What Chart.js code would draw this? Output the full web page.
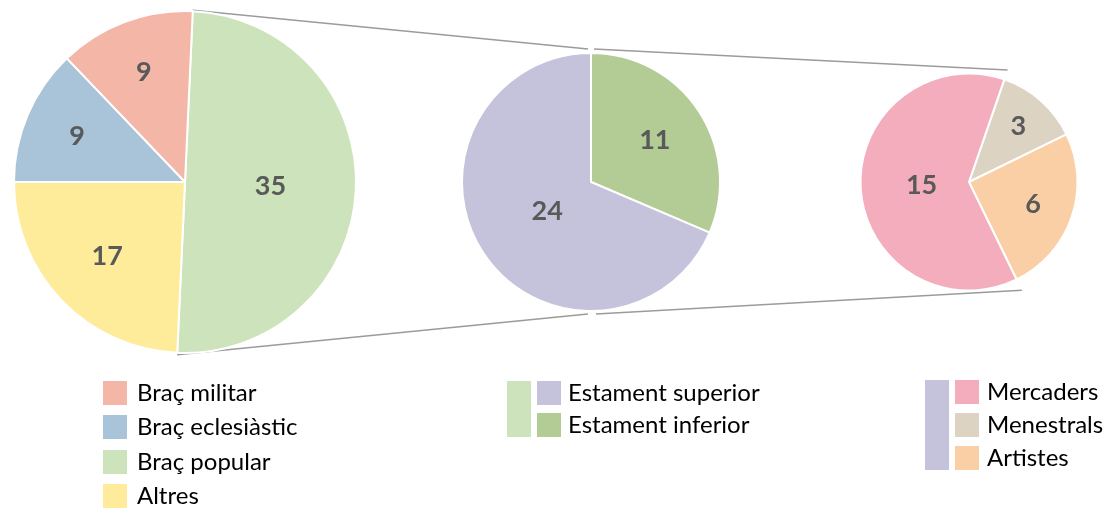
<!DOCTYPE html>
<html>
<head>
<meta charset="utf-8">
<script src="https://cdn.jsdelivr.net/npm/chart.js@4/dist/chart.umd.min.js"></script>
<style>
  body { margin: 0; background: #fff; }
  #wrap { position: relative; width: 1109px; height: 509px; overflow: hidden; font-family: Lato, "Open Sans", sans-serif; }
  canvas { position: absolute; }
  .sw { position: absolute; }
  .txt { position: absolute; font-size: 24px; color: #000; height: 24px; line-height: 24px; white-space: nowrap; }
</style>
</head>
<body>
<div id="wrap">
  <canvas id="lines" width="1109" height="509" style="left:0;top:0"></canvas>
  <canvas id="pieBraços" width="360" height="360" style="left:5px;top:2px"></canvas>
  <canvas id="pieEstaments" width="280" height="280" style="left:451px;top:42px"></canvas>
  <canvas id="pieSuperior" width="240" height="240" style="left:849px;top:62px"></canvas>
</div>
<script>
// dades (ordre de dibuix, en sentit horari)
const bracosLabels = ["Braç popular", "Altres", "Braç eclesiàstic", "Braç militar"];
const bracosValues = [35, 17, 9, 9];
const bracosColors = ["#CDE3BB", "#FEEC9B", "#A9C3D8", "#F4B6A7"];

const estamentsLabels = ["Estament inferior", "Estament superior"];
const estamentsValues = [11, 24];
const estamentsColors = ["#B3CB95", "#C5C3DC"];

const superiorLabels = ["Menestrals", "Artistes", "Mercaders"];
const superiorValues = [3, 6, 15];
const superiorColors = ["#DDD3C2", "#FBCFA6", "#F3ADBD"];

// ordre de les llegendes
const bracosLegend = ["Braç militar", "Braç eclesiàstic", "Braç popular", "Altres"];
const estamentsLegend = ["Estament superior", "Estament inferior"];
const superiorLegend = ["Mercaders", "Menestrals", "Artistes"];

// etiquetes dins de cada sector
const valueLabels = {
    id: "valueLabels",
    afterDatasetsDraw(chart) {
        const ctx = chart.ctx;
        const meta = chart.getDatasetMeta(0);
        const values = chart.data.datasets[0].data;
        const total = values.reduce((a, b) => a + b, 0);
        ctx.save();
        ctx.font = "bold 27px Lato, sans-serif";
        ctx.fillStyle = "#595959";
        ctx.textAlign = "center";
        ctx.textBaseline = "middle";
        meta.data.forEach((arc, i) => {
            const f = values[i] / total;
            const mid = (arc.startAngle + arc.endAngle) / 2;
            const d = arc.outerRadius * (0.75 - 0.5 * f);
            ctx.fillText(String(values[i]), arc.x + d * Math.cos(mid), arc.y + d * Math.sin(mid));
        });
        ctx.restore();
    },
};

function makePie(id, labels, values, colors, radius, rotation) {
    return new Chart(document.getElementById(id), {
        type: "pie",
        data: {
            labels: labels,
            datasets: [{
                data: values,
                backgroundColor: colors,
                borderColor: "#ffffff",
                borderWidth: 2,
            }],
        },
        options: {
            responsive: false,
            animation: false,
            radius: radius,
            rotation: rotation,
            plugins: { legend: { display: false }, tooltip: { enabled: false } },
        },
        plugins: [valueLabels],
    });
}

const chartBracos = makePie("pieBraços", bracosLabels, bracosValues, bracosColors, 171, 2.6);
const chartEstaments = makePie("pieEstaments", estamentsLabels, estamentsValues, estamentsColors, 129, 0);
const chartSuperior = makePie("pieSuperior", superiorLabels, superiorValues, superiorColors, 108.5, 19);

// línies de connexió entre els pastissos
function pageOffset(chart) {
    const c = chart.canvas;
    return { x: c.offsetLeft, y: c.offsetTop };
}
function edgePoint(chart, index, which, extra) {
    const arc = chart.getDatasetMeta(0).data[index];
    const o = pageOffset(chart);
    const a = which === "start" ? arc.startAngle : arc.endAngle;
    const r = arc.outerRadius + extra;
    return { x: o.x + arc.x + r * Math.cos(a), y: o.y + arc.y + r * Math.sin(a) };
}
function midInfo(chart) {
    const arc = chart.getDatasetMeta(0).data[0];
    const o = pageOffset(chart);
    return { x: o.x + arc.x, y: o.y + arc.y, r: arc.outerRadius };
}

const lc = document.getElementById("lines").getContext("2d");
lc.strokeStyle = "#9b9b9b";
lc.lineWidth = 1.5;
const m = midInfo(chartEstaments);
const segs = [
    [edgePoint(chartBracos, 0, "start", 1), { x: m.x - 3, y: m.y - m.r - 4 }],
    [{ x: m.x + 3, y: m.y - m.r - 4 }, edgePoint(chartSuperior, 0, "start", 10)],
    [edgePoint(chartBracos, 0, "end", 2), { x: m.x - 3, y: m.y + m.r + 3 }],
    [{ x: m.x + 5, y: m.y + m.r + 3 }, edgePoint(chartSuperior, 1, "end", 12)],
];
segs.forEach(([p, q]) => {
    lc.beginPath();
    lc.moveTo(p.x, p.y);
    lc.lineTo(q.x, q.y);
    lc.stroke();
});

// llegendes
const wrap = document.getElementById("wrap");
function box(x, y, w, h, color) {
    const d = document.createElement("div");
    d.className = "sw";
    d.style.cssText = `left:${x}px;top:${y}px;width:${w}px;height:${h}px;background:${color}`;
    wrap.appendChild(d);
}
function text(x, y, s) {
    const d = document.createElement("div");
    d.className = "txt";
    d.style.left = x + "px";
    d.style.top = y + "px";
    d.textContent = s;
    wrap.appendChild(d);
}
function legend(names, labels, colors, x, y, step, textGap, parentColor, parentX) {
    if (parentColor) {
        box(parentX, y, 24, step * (names.length - 1) + 24, parentColor);
    }
    names.forEach((name, i) => {
        const c = colors[labels.indexOf(name)];
        box(x, y + i * step, 24, 24, c);
        text(x + textGap, y + i * step - 1, name);
    });
}
legend(bracosLegend, bracosLabels, bracosColors, 103, 381, 34.3, 34);
legend(estamentsLegend, estamentsLabels, estamentsColors, 537, 381, 32, 31, bracosColors[0], 507);
legend(superiorLegend, superiorLabels, superiorColors, 955, 380, 33, 32, estamentsColors[1], 925);
</script>
</body>
</html>
